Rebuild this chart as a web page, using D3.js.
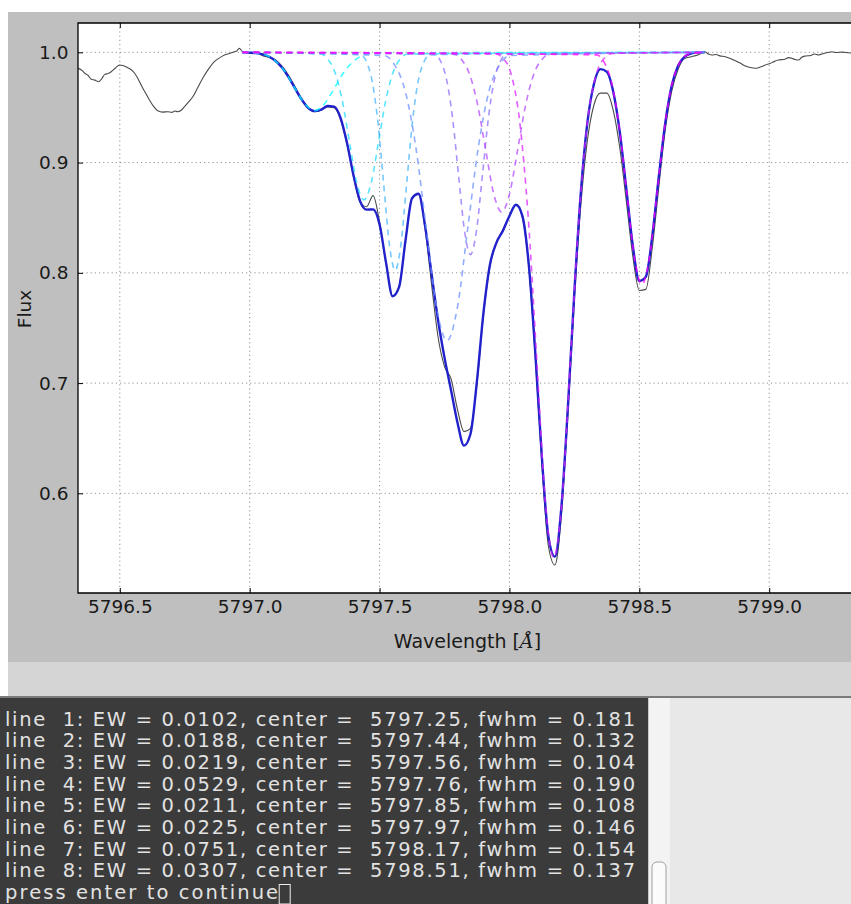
<!DOCTYPE html>
<html>
<head>
<meta charset="utf-8">
<script src="https://cdn.jsdelivr.net/npm/d3@7"></script>
<style>
  html, body { margin: 0; padding: 0; background: #ffffff; }
  svg { display: block; }
  text { font-family: "DejaVu Sans", sans-serif; }
</style>
</head>
<body>
<svg id="chart" width="851" height="904"></svg>
<script>
// ---------------- DATA ----------------
// Observed spectrum (wavelength in Angstrom, normalised flux)
const obsWave = [5796.339,5796.352,5796.365,5796.378,5796.390,5796.404,5796.419,5796.430,5796.442,5796.455,5796.467,5796.483,5796.499,5796.515,5796.531,5796.544,5796.557,5796.570,5796.582,5796.598,5796.614,5796.630,5796.646,5796.665,5796.685,5796.700,5796.712,5796.723,5796.735,5796.749,5796.765,5796.781,5796.800,5796.819,5796.842,5796.864,5796.884,5796.903,5796.922,5796.941,5796.950,5796.960,5796.972,
  5797.000,5797.025,5797.050,5797.075,5797.100,5797.125,5797.150,5797.175,5797.200,5797.225,5797.250,5797.275,5797.300,5797.325,5797.350,5797.375,5797.400,5797.425,5797.450,5797.475,5797.500,5797.525,5797.550,5797.575,5797.600,5797.625,5797.650,5797.675,5797.700,5797.725,5797.750,5797.775,5797.800,5797.825,5797.850,5797.875,5797.900,5797.925,5797.950,5797.975,5798.000,5798.025,5798.050,5798.075,5798.100,5798.125,5798.150,5798.175,5798.200,5798.225,5798.250,5798.275,5798.300,5798.325,5798.350,5798.375,5798.400,5798.425,5798.450,5798.475,5798.500,5798.525,5798.550,5798.575,5798.600,5798.625,5798.650,5798.675,5798.700,5798.725,
  5798.752,5798.766,5798.780,5798.795,5798.810,5798.831,5798.850,5798.870,5798.890,5798.908,5798.927,5798.946,5798.965,5798.985,5799.005,5799.020,5799.036,5799.060,5799.075,5799.087,5799.100,5799.113,5799.125,5799.138,5799.160,5799.175,5799.190,5799.210,5799.225,5799.241,5799.260,5799.280,5799.305,5799.330];
const obsFlux = [0.9855,0.9840,0.9810,0.9790,0.9755,0.9748,0.9733,0.9760,0.9800,0.9808,0.9824,0.9858,0.9885,0.9878,0.9860,0.9842,0.9810,0.9760,0.9704,0.9635,0.9568,0.9510,0.9470,0.9458,0.9461,0.9455,0.9468,0.9461,0.9472,0.9507,0.9550,0.9597,0.9680,0.9764,0.9850,0.9915,0.9950,0.9976,0.9990,1.0005,1.0012,1.0036,1.0008,
  0.9990,1.0002,0.9968,0.9955,0.9930,0.9872,0.9790,0.9685,0.9580,0.9490,0.9462,0.9475,0.9505,0.9498,0.9390,0.9160,0.8870,0.8640,0.8600,0.8700,0.8460,0.8080,0.7790,0.7880,0.8300,0.8670,0.8710,0.8400,0.7900,0.7420,0.7150,0.7040,0.6760,0.6560,0.6590,0.7000,0.7620,0.8060,0.8270,0.8390,0.8520,0.8620,0.8500,0.8040,0.7220,0.6260,0.5520,0.5350,0.5800,0.6720,0.7760,0.8620,0.9200,0.9520,0.9630,0.9630,0.9470,0.9130,0.8650,0.8150,0.7840,0.7850,0.8230,0.8780,0.9300,0.9650,0.9850,0.9946,0.9960,0.9976,
  1.0005,0.9985,0.9976,0.9980,0.9968,0.9960,0.9945,0.9924,0.9900,0.9876,0.9862,0.9855,0.9866,0.9885,0.9900,0.9918,0.9930,0.9938,0.9952,0.9946,0.9935,0.9930,0.9955,0.9966,0.9972,0.9985,0.9976,0.9990,0.9998,1.0005,0.9998,1.0002,0.9996,0.9990];

// Total fit
const fitWave = [5796.972,5797.000,5797.025,5797.050,5797.075,5797.100,5797.125,5797.150,5797.175,5797.200,5797.225,5797.250,5797.275,5797.300,5797.325,5797.350,5797.375,5797.400,5797.425,5797.450,5797.475,5797.500,5797.525,5797.550,5797.575,5797.600,5797.625,5797.650,5797.675,5797.700,5797.725,5797.750,5797.775,5797.800,5797.825,5797.850,5797.875,5797.900,5797.925,5797.950,5797.975,5798.000,5798.025,5798.050,5798.075,5798.100,5798.125,5798.150,5798.175,5798.200,5798.225,5798.250,5798.275,5798.300,5798.325,5798.350,5798.375,5798.400,5798.425,5798.450,5798.475,5798.500,5798.525,5798.550,5798.575,5798.600,5798.625,5798.650,5798.675,5798.700,5798.725,5798.752];
const fitFlux = [1.0000,0.9997,0.9993,0.9982,0.9960,0.9921,0.9859,0.9773,0.9671,0.9572,0.9497,0.9467,0.9480,0.9513,0.9507,0.9404,0.9175,0.8880,0.8650,0.8573,0.8576,0.8439,0.8090,0.7787,0.7870,0.8297,0.8677,0.8717,0.8430,0.7994,0.7572,0.7231,0.6937,0.6641,0.6433,0.6538,0.7022,0.7639,0.8076,0.8274,0.8383,0.8516,0.8618,0.8515,0.8060,0.7255,0.6321,0.5607,0.5426,0.5876,0.6783,0.7832,0.8737,0.9362,0.9711,0.9848,0.9823,0.9638,0.9273,0.8762,0.8243,0.7926,0.7964,0.8337,0.8872,0.9363,0.9701,0.9883,0.9962,0.9990,0.9998,1.0000];

// Individual fitted components (dashed)
const compWaves = [
  [5796.972,5797.019,5797.058,5797.096,5797.135,5797.173,5797.212,5797.250,5797.288,5797.327,5797.365,5797.404,5797.442,5797.481,5798.752],
  [5796.972,5797.272,5797.300,5797.328,5797.356,5797.384,5797.412,5797.440,5797.468,5797.496,5797.524,5797.552,5797.580,5797.608,5798.752],
  [5796.972,5797.427,5797.450,5797.472,5797.494,5797.516,5797.538,5797.560,5797.582,5797.604,5797.626,5797.648,5797.671,5797.693,5798.752],
  [5796.972,5797.518,5797.558,5797.599,5797.639,5797.679,5797.719,5797.760,5797.800,5797.840,5797.881,5797.921,5797.962,5798.002,5798.752],
  [5796.972,5797.712,5797.735,5797.758,5797.781,5797.804,5797.827,5797.850,5797.873,5797.896,5797.919,5797.942,5797.965,5797.988,5798.752],
  [5796.972,5797.784,5797.815,5797.846,5797.877,5797.908,5797.939,5797.970,5798.001,5798.032,5798.063,5798.094,5798.125,5798.156,5798.752],
  [5796.972,5797.941,5797.974,5798.007,5798.039,5798.072,5798.105,5798.137,5798.170,5798.203,5798.235,5798.268,5798.301,5798.334,5798.366,5798.399,5798.752],
  [5796.972,5798.335,5798.365,5798.394,5798.423,5798.452,5798.481,5798.510,5798.539,5798.568,5798.597,5798.626,5798.656,5798.685,5798.752]
];
const compFluxes = [
  [1,0.9994,0.9977,0.9928,0.9828,0.9679,0.9533,0.9471,0.9533,0.9679,0.9828,0.9928,0.9977,0.9994,1],
  [1,0.9985,0.9941,0.9819,0.9566,0.9189,0.8819,0.8662,0.8819,0.9189,0.9566,0.9819,0.9941,0.9985,1],
  [1,0.9978,0.9913,0.9732,0.9358,0.8800,0.8254,0.8022,0.8254,0.8800,0.9358,0.9732,0.9913,0.9978,1],
  [1,0.9971,0.9885,0.9646,0.9151,0.8414,0.7692,0.7385,0.7692,0.8414,0.9151,0.9646,0.9885,0.9971,1],
  [1,0.9980,0.9919,0.9752,0.9404,0.8887,0.8381,0.8165,0.8381,0.8887,0.9404,0.9752,0.9919,0.9980,1],
  [1,0.9984,0.9936,0.9804,0.9530,0.9122,0.8722,0.8552,0.8722,0.9122,0.9530,0.9804,0.9936,0.9984,1],
  [1,0.9990,0.9949,0.9799,0.9380,0.8513,0.7222,0.5957,0.5419,0.5957,0.7222,0.8513,0.9380,0.9799,0.9949,0.9990,1],
  [1,0.9977,0.9908,0.9715,0.9317,0.8723,0.8142,0.7895,0.8142,0.8723,0.9317,0.9715,0.9908,0.9977,1]
];

// Axis ticks
const xTicks = [5796.5, 5797.0, 5797.5, 5798.0, 5798.5, 5799.0];
const yTicks = [0.6, 0.7, 0.8, 0.9, 1.0];
const xLabel = "Wavelength [";
const xLabelUnit = "Å";
const yLabel = "Flux";

// Terminal output (fit results)
const lineIds = [1, 2, 3, 4, 5, 6, 7, 8];
const ewValues = [0.0102, 0.0188, 0.0219, 0.0529, 0.0211, 0.0225, 0.0751, 0.0307];
const centerValues = [5797.25, 5797.44, 5797.56, 5797.76, 5797.85, 5797.97, 5798.17, 5798.51];
const fwhmValues = [0.181, 0.132, 0.104, 0.190, 0.108, 0.146, 0.154, 0.137];
const promptText = "press enter to continue";

// ---------------- DRAW ----------------
const svg = d3.select("#chart");
const W = 851, H = 904;

// window backgrounds
svg.append("rect").attr("x", 0).attr("y", 0).attr("width", W).attr("height", H).attr("fill", "#ffffff");
svg.append("rect").attr("x", 8).attr("y", 12).attr("width", W - 8).attr("height", 650).attr("fill", "#bfbfbf");
svg.append("rect").attr("x", 8).attr("y", 662).attr("width", W - 8).attr("height", 35).attr("fill", "#d5d5d5");
svg.append("rect").attr("x", 0).attr("y", 696).attr("width", W).attr("height", 2).attr("fill", "#7a7a7a");
svg.append("rect").attr("x", 0).attr("y", 698).attr("width", 648).attr("height", H - 698).attr("fill", "#3b3b3b");
svg.append("rect").attr("x", 648).attr("y", 698).attr("width", 22).attr("height", H - 698).attr("fill", "#f3f3f3");
svg.append("line").attr("x1", 648.5).attr("x2", 648.5).attr("y1", 698).attr("y2", H).attr("stroke", "#c8c8c8");
svg.append("rect").attr("x", 652).attr("y", 862).attr("width", 14).attr("height", 52).attr("rx", 5)
  .attr("fill", "#fbfbfb").attr("stroke", "#a0a0a0");
svg.append("rect").attr("x", 670).attr("y", 698).attr("width", W - 670).attr("height", H - 698).attr("fill", "#e8e8e8");

// plot area
const m = { left: 78, top: 23, right: 857, bottom: 593 };
const x = d3.scaleLinear().domain([5796.339, 5799.338]).range([m.left, m.right]);
const y = d3.scaleLinear().domain([0.5096, 1.0266]).range([m.bottom, m.top]);

svg.append("rect").attr("x", m.left).attr("y", m.top)
  .attr("width", m.right - m.left).attr("height", m.bottom - m.top).attr("fill", "#ffffff");

svg.append("clipPath").attr("id", "plotclip").append("rect")
  .attr("x", m.left).attr("y", m.top).attr("width", m.right - m.left).attr("height", m.bottom - m.top);

// grid
const grid = svg.append("g").attr("stroke", "#555").attr("stroke-width", 0.8)
  .attr("stroke-dasharray", "1.2,3").attr("opacity", 0.8);
grid.selectAll("line.vx").data(xTicks).join("line")
  .attr("x1", d => x(d)).attr("x2", d => x(d)).attr("y1", m.top).attr("y2", m.bottom);
grid.selectAll("line.hy").data(yTicks).join("line")
  .attr("x1", m.left).attr("x2", m.right).attr("y1", d => y(d)).attr("y2", d => y(d));

const plot = svg.append("g").attr("clip-path", "url(#plotclip)");
const line = d3.line().x(d => x(d[0])).y(d => y(d[1])).curve(d3.curveMonotoneX);

// observed spectrum
plot.append("path").datum(d3.zip(obsWave, obsFlux))
  .attr("d", line).attr("fill", "none").attr("stroke", "#4a4a4a").attr("stroke-width", 1.1);

// total fit
plot.append("path").datum(d3.zip(fitWave, fitFlux))
  .attr("d", line).attr("fill", "none").attr("stroke", "#2222cc").attr("stroke-width", 2.4)
  .attr("stroke-linejoin", "round");

// components (matplotlib "cool" colour map)
const cool = d3.interpolateRgb("#00ffff", "#ff00ff");
compWaves.forEach((wv, i) => {
  plot.append("path").datum(d3.zip(wv, compFluxes[i]))
    .attr("d", line).attr("fill", "none")
    .attr("stroke", cool(i / (compWaves.length - 1)))
    .attr("stroke-opacity", 0.75)
    .attr("stroke-width", 1.6)
    .attr("stroke-dasharray", "6,5");
});

// axes (ticks inside)
const fmt = d3.format(".1f");
const gx = svg.append("g").attr("transform", `translate(0,${m.bottom})`)
  .call(d3.axisBottom(x).tickValues(xTicks).tickFormat(fmt).tickSize(-5).tickPadding(7));
const gxt = svg.append("g").attr("transform", `translate(0,${m.top})`)
  .call(d3.axisTop(x).tickValues(xTicks).tickFormat("").tickSize(-5));
const gy = svg.append("g").attr("transform", `translate(${m.left},0)`)
  .call(d3.axisLeft(y).tickValues(yTicks).tickFormat(fmt).tickSize(-5).tickPadding(9.5));
[gx, gxt, gy].forEach(g => {
  g.select(".domain").remove();
  g.selectAll(".tick line").attr("stroke", "#000").attr("stroke-width", 1);
  g.selectAll(".tick text").attr("font-family", "DejaVu Sans").attr("font-size", 18.5).attr("fill", "#1a1a1a");
});

// spines
svg.append("path")
  .attr("d", `M${m.right},${m.top}H${m.left}V${m.bottom}H${m.right}`)
  .attr("fill", "none").attr("stroke", "#000").attr("stroke-width", 1.3);

// axis labels
const xl = svg.append("text").attr("x", 467.5).attr("y", 648).attr("text-anchor", "middle")
  .attr("font-size", 19).attr("fill", "#1a1a1a");
xl.append("tspan").text(xLabel);
xl.append("tspan").attr("font-family", "DejaVu Serif").attr("font-style", "italic").text(xLabelUnit);
xl.append("tspan").text("]");

svg.append("text").attr("transform", "translate(31,309) rotate(-90)")
  .attr("text-anchor", "middle").attr("font-size", 18.5).attr("fill", "#1a1a1a").text(yLabel);

// terminal text
const fEW = d3.format(".4f"), fC = d3.format(".2f"), fF = d3.format(".3f");
const termLines = lineIds.map((n, i) =>
  `line  ${n}: EW = ${fEW(ewValues[i])}, center =  ${fC(centerValues[i])}, fwhm = ${fF(fwhmValues[i])}`);
termLines.push(promptText);

const cellW = 11.9;
const term = svg.append("g");
term.selectAll("text").data(termLines).join("text")
  .attr("x", 5).attr("y", (d, i) => 725.5 + i * 21.7)
  .attr("font-family", "DejaVu Sans Mono").attr("font-size", 19.5)
  .attr("textLength", d => d.length * cellW - 0.6)
  .attr("lengthAdjust", "spacing")
  .attr("fill", "#e2e2e2")
  .style("white-space", "pre")
  .text(d => d);

// cursor
svg.append("rect").attr("x", 5 + promptText.length * cellW + 0.5).attr("y", 884.5)
  .attr("width", 11).attr("height", 19.5).attr("fill", "none").attr("stroke", "#eeeeee").attr("stroke-width", 1);
</script>
</body>
</html>
